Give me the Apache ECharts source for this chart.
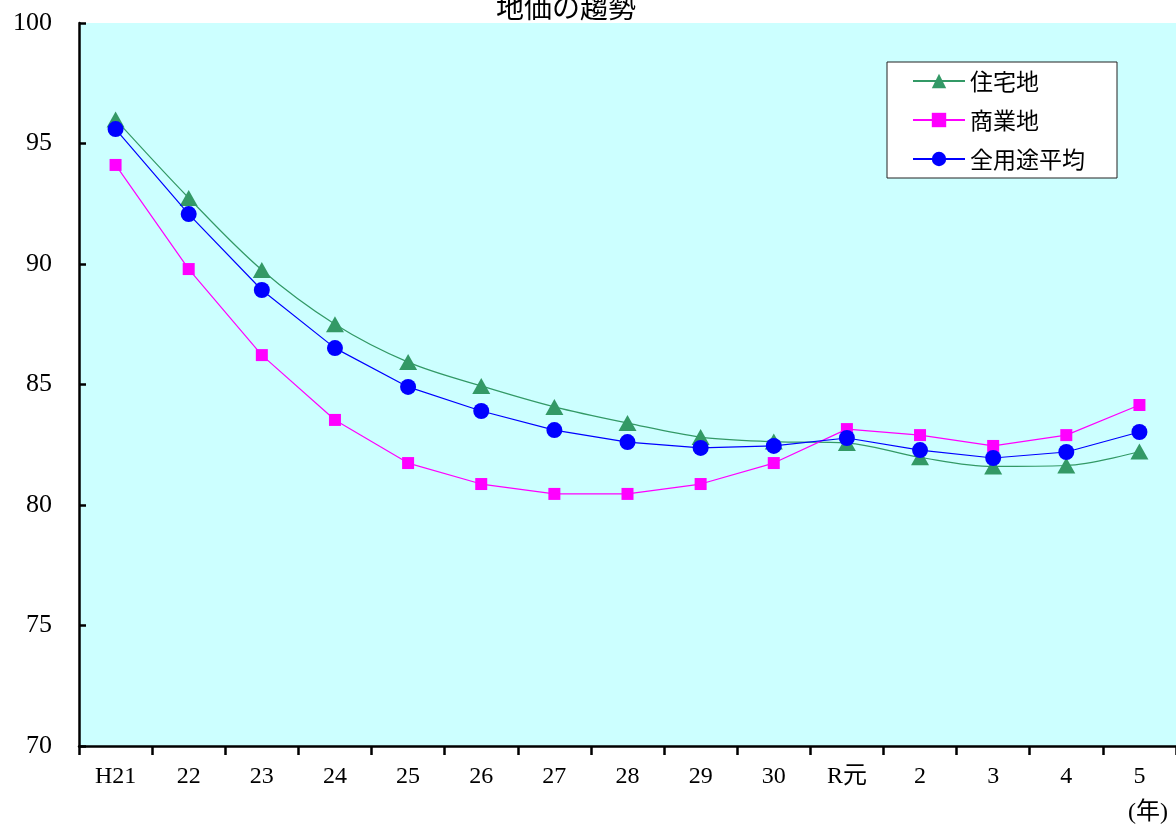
<!DOCTYPE html>
<html>
<head>
<meta charset="utf-8">
<script src="https://cdn.jsdelivr.net/npm/echarts@6/dist/echarts.min.js"></script>
<style>
html,body{margin:0;padding:0;background:#fff;}
#chart{width:1176px;height:829px;}
</style>
</head>
<body>
<div id="chart"></div>
<script>
const categories = ['H21','22','23','24','25','26','27','28','29','30','R元','2','3','4','5'];
const residential = [96.0, 92.74, 89.75, 87.5, 85.93, 84.94, 84.07, 83.4, 82.82, 82.63, 82.57, 81.98, 81.6, 81.64, 82.22];
const commercial  = [94.11, 89.79, 86.22, 83.53, 81.74, 80.87, 80.46, 80.46, 80.87, 81.74, 83.15, 82.9, 82.45, 82.9, 84.15];
const allUse      = [95.6, 92.07, 88.92, 86.51, 84.9, 83.9, 83.11, 82.61, 82.37, 82.45, 82.78, 82.28, 81.95, 82.2, 83.03];
const seriesNames = ['住宅地','商業地','全用途平均'];
const yTicks = {min:70, max:100, interval:5};

const serif = "'Liberation Serif', 'Noto Sans CJK JP', serif";
const cjk = "'Noto Sans CJK JP', sans-serif";

const chart = echarts.init(document.getElementById('chart'), null, {renderer:'canvas'});
chart.setOption({
  backgroundColor:'#ffffff',
  animation:false,
  title:{
    text:'地価の趨勢', left:561, top:-12, textAlign:'center',
    textStyle:{fontFamily:cjk, fontSize:28, fontWeight:'normal', color:'#000'}
  },
  grid:{
    left:79, top:23, width:1101, height:723,
    show:true, backgroundColor:'#CCFFFF', borderWidth:0
  },
  legend:{
    orient:'vertical', left:887, top:62,
    backgroundColor:'#ffffff', borderColor:'#222', borderWidth:1,
    padding:[7,32,7,25],
    itemWidth:52, itemHeight:18, itemGap:15,
    textStyle:{fontFamily:cjk, fontSize:23, color:'#000', lineHeight:24},
    data:seriesNames
  },
  xAxis:{
    type:'category', data:categories, boundaryGap:true,
    axisLine:{lineStyle:{color:'#000', width:2.5}},
    axisTick:{show:true, inside:false, length:9, lineStyle:{color:'#000', width:2.5}},
    axisLabel:{fontFamily:serif, fontSize:24, color:'#000', margin:19},
    splitLine:{show:false}
  },
  yAxis:{
    type:'value', min:yTicks.min, max:yTicks.max, interval:yTicks.interval,
    axisLine:{show:true, lineStyle:{color:'#000', width:2.5}},
    axisTick:{show:true, inside:true, length:7, lineStyle:{color:'#000', width:2.5}},
    axisLabel:{fontFamily:serif, fontSize:26, color:'#000', margin:27},
    splitLine:{show:false}
  },
  graphic:[{
    type:'text', left:1128, top:801,
    style:{text:'(年)', font:"24px 'Liberation Serif', 'Noto Sans CJK JP'", fill:'#000'}
  }],
  series:[
    {
      name:seriesNames[0], type:'line', data:residential, smooth:0.35,
      symbol:'triangle', symbolSize:[18,16],
      lineStyle:{color:'#339966', width:1.2},
      itemStyle:{color:'#339966'}, z:2
    },
    {
      name:seriesNames[1], type:'line', data:commercial,
      symbol:'rect', symbolSize:12,
      lineStyle:{color:'#FF00FF', width:1.2},
      itemStyle:{color:'#FF00FF'}, z:3
    },
    {
      name:seriesNames[2], type:'line', data:allUse,
      symbol:'circle', symbolSize:16,
      lineStyle:{color:'#0000FF', width:1.2},
      itemStyle:{color:'#0000FF'}, z:4
    }
  ]
});
</script>
</body>
</html>
